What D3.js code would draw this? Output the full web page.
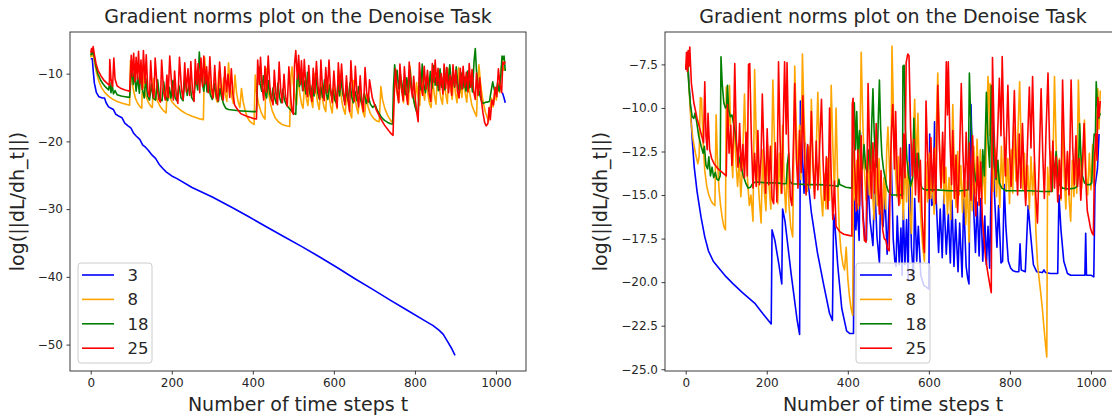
<!DOCTYPE html>
<html>
<head>
<meta charset="utf-8">
<script src="https://cdn.jsdelivr.net/npm/d3@7"></script>
<style>
  html, body { margin: 0; padding: 0; background: #fff; }
  svg { display: block; font-family: "DejaVu Sans", sans-serif; }
</style>
</head>
<body>
<svg id="chart" width="1112" height="417"></svg>
<script>
// Log gradient norm per time step for four depth settings, two runs of the Denoise task.
const seriesLabels = ["3", "8", "18", "25"];
const seriesColors = ["blue", "orange", "green", "red"];
const xTicks = [0, 200, 400, 600, 800, 1000];
const leftYTicks = [-50, -40, -30, -20, -10];
const rightYTicks = [-25, -22.5, -20, -17.5, -15, -12.5, -10, -7.5];
const chartTitle = "Gradient norms plot on the Denoise Task";
const xTitle = "Number of time steps t";
const yTitle = "log(||dL/dh_t||)";

// ---- left run: [time step, log norm]; null marks steps where the norm underflows ----
const leftBlue = [[0,-7.8],[4,-7.8],[6,-9.5],[9,-11.4],[14,-12.8],[20,-13.4],[29,-13.6],[34,-13.6],[38,-14.3],[44,-14.9],[50,-15.1],[56,-15.3],[62,-16.0],[70,-16.3],[77,-16.5],[84,-17.3],[92,-17.7],[99,-18.0],[106,-18.8],[112,-19.2],[121,-19.7],[128,-20.5],[134,-20.8],[142,-21.3],[151,-22.0],[160,-22.5],[169,-23.4],[178,-24.0],[186,-24.5],[200,-25.1],[213,-25.5],[250,-26.8],[300,-28.2],[350,-29.8],[388,-31.05],[430,-32.5],[475,-34.0],[520,-35.5],[563,-37.0],[610,-38.7],[650,-40.2],[700,-42.0],[738,-43.4],[780,-44.9],[825,-46.5],[845,-47.2],[860,-47.9],[870,-48.5],[880,-49.5],[890,-50.5],[899,-51.6],[900,null],[1015,null],[1016,-12.8],[1020,-13.6],[1023,-14.3]];

const leftOrange = [[0,-7.6],[2,-7.0],[4,-7.4],[6,-7.0],[9,-8.2],[14,-9.8],[20,-11.1],[27,-12.1],[35,-12.8],[45,-13.4],[55,-13.8],[65,-14.1],[80,-14.4],[96,-14.65],[98,-8.1],[101,-10.5],[105,-12.3],[110,-13.6],[116,-14.4],[122,-14.9],[126,-15.1],[128,-9.6],[131,-11.9],[136,-13.3],[142,-14.2],[148,-14.8],[152,-15.0],[155,-10.7],[159,-12.8],[165,-14.1],[172,-14.9],[180,-15.5],[186,-15.8],[189,-11.9],[193,-13.2],[200,-14.1],[210,-14.8],[222,-15.4],[235,-15.9],[250,-16.3],[265,-16.6],[278,-16.8],[281,-7.6],[284,-10.4],[288,-12.2],[292,-9.8],[296,-12.5],[300,-13.6],[304,-11.3],[308,-13.4],[312,-14.2],[316,-9.7],[320,-12.5],[324,-13.8],[328,-10.6],[332,-13.0],[336,-14.1],[340,-8.4],[344,-11.5],[348,-13.4],[352,-14.4],[356,-10.2],[360,-12.9],[364,-14.2],[368,-15.0],[372,-12.2],[376,-14.1],[381,-15.4],[386,-16.4],[392,-17.0],[398,-17.3],[403,-17.5],[406,-10.2],[409,-12.6],[414,-14.4],[420,-15.6],[426,-16.4],[430,-16.7],[433,-9.2],[437,-12.0],[442,-14.0],[448,-15.5],[455,-16.5],[463,-17.1],[472,-17.5],[482,-17.7],[491,-17.8],[494,-10.4],[497,-9.0],[500,-11.5],[504,-13.5],[508,-14.6],[512,-10.2],[516,-12.9],[520,-14.4],[524,-15.1],[528,-11.2],[532,-13.6],[536,-14.7],[540,-11.8],[544,-13.9],[548,-15.0],[552,-10.0],[556,-12.7],[560,-14.3],[564,-15.3],[568,-11.5],[572,-13.8],[576,-15.0],[580,-15.6],[584,-10.8],[588,-13.2],[592,-14.8],[596,-15.8],[600,-11.7],[604,-14.0],[608,-15.2],[612,-9.4],[616,-12.3],[620,-14.2],[624,-15.3],[628,-16.0],[632,-12.5],[636,-14.6],[640,-15.8],[644,-16.5],[648,-11.0],[652,-13.5],[656,-15.0],[660,-15.9],[664,-12.2],[668,-14.5],[672,-15.7],[676,-16.4],[680,-13.0],[684,-14.8],[690,-15.9],[698,-16.6],[706,-17.0],[712,-17.1],[716,-11.9],[720,-13.8],[726,-15.2],[733,-16.2],[740,-16.9],[746,-17.3],[749,-12.4],[752,-10.6],[756,-12.9],[760,-14.2],[764,-10.1],[768,-12.7],[772,-14.3],[776,-11.0],[780,-13.2],[784,-14.6],[788,-8.9],[792,-11.8],[796,-13.6],[800,-14.8],[804,-11.3],[808,-13.5],[812,-14.7],[816,-9.7],[820,-12.4],[824,-13.9],[828,-10.6],[832,-13.0],[836,-14.4],[840,-15.0],[844,-10.9],[848,-13.2],[852,-14.5],[856,-9.5],[860,-12.0],[864,-13.6],[868,-14.5],[872,-10.8],[876,-13.0],[880,-14.4],[884,-9.3],[888,-12.2],[892,-13.8],[896,-10.4],[900,-12.9],[904,-14.3],[908,-9.1],[912,-11.9],[916,-13.5],[920,-10.3],[924,-12.8],[928,-14.2],[932,-10.8],[936,-13.1],[940,-14.5],[944,-15.2],[948,-15.8],[952,-16.3],[955,-11.6],[958,-8.7],[962,-11.4],[966,-13.3],[970,-14.6],[974,-15.7],[978,-16.4],[982,-17.0],[985,-15.2],[989,-13.6],[993,-14.9],[997,-12.5],[1001,-13.9],[1005,-11.3],[1009,-12.8],[1013,-9.3],[1016,-8.0],[1019,-9.5],[1023,-9.2]];

const leftGreen = [[0,-7.3],[2,-6.9],[4,-7.1],[6,-6.6],[9,-7.6],[13,-9.0],[18,-10.1],[24,-10.9],[30,-11.5],[37,-12.0],[44,-12.4],[47,-11.3],[50,-12.8],[53,-11.6],[56,-13.0],[60,-12.5],[65,-13.1],[75,-13.3],[85,-13.4],[96,-13.5],[99,-10.8],[102,-9.1],[105,-11.6],[108,-9.8],[112,-12.6],[116,-10.4],[120,-12.9],[124,-9.5],[128,-12.4],[132,-13.6],[136,-10.7],[140,-13.3],[145,-13.9],[150,-11.5],[154,-13.6],[160,-13.9],[165,-10.9],[170,-13.6],[176,-14.0],[180,-11.2],[185,-13.4],[190,-14.0],[194,-12.0],[198,-13.6],[203,-11.0],[208,-13.5],[212,-14.0],[218,-11.8],[223,-13.6],[228,-14.0],[233,-10.4],[238,-13.2],[244,-11.2],[249,-13.5],[254,-14.0],[259,-10.6],[264,-12.4],[268,-6.8],[271,-9.6],[275,-11.2],[279,-12.6],[283,-10.0],[287,-12.7],[291,-11.3],[295,-13.1],[300,-13.8],[305,-11.5],[310,-13.4],[315,-14.1],[319,-12.2],[324,-13.7],[328,-14.5],[333,-15.1],[340,-15.3],[355,-15.4],[370,-15.5],[385,-15.55],[400,-15.6],[409,-15.6],[412,-10.8],[415,-9.0],[418,-11.4],[422,-12.6],[426,-10.3],[430,-12.8],[434,-13.6],[438,-11.0],[442,-13.0],[446,-13.9],[450,-12.1],[454,-13.6],[458,-14.4],[462,-11.4],[466,-13.5],[470,-14.3],[474,-12.3],[478,-13.9],[483,-14.6],[488,-15.0],[494,-15.4],[500,-15.8],[506,-16.0],[509,-11.0],[512,-9.6],[515,-11.9],[519,-10.3],[523,-12.5],[527,-11.1],[531,-13.0],[535,-9.8],[539,-12.3],[543,-13.4],[547,-11.7],[551,-13.3],[556,-10.5],[560,-12.8],[564,-13.7],[568,-12.0],[572,-13.5],[577,-10.9],[581,-12.9],[585,-13.8],[590,-11.6],[594,-13.3],[598,-12.4],[602,-13.9],[606,-14.3],[610,-11.5],[614,-13.3],[618,-10.8],[622,-13.0],[627,-14.2],[631,-12.4],[635,-14.0],[640,-11.3],[644,-13.4],[648,-14.3],[652,-12.6],[657,-14.0],[661,-11.9],[665,-13.7],[670,-14.6],[675,-12.9],[680,-14.4],[685,-13.3],[690,-14.5],[696,-15.0],[702,-14.6],[707,-15.4],[712,-15.9],[718,-16.5],[725,-16.9],[733,-17.2],[740,-17.4],[745,-17.45],[747,-12.2],[750,-8.7],[753,-10.6],[756,-9.5],[760,-12.2],[764,-10.1],[768,-12.7],[772,-11.0],[776,-13.1],[780,-10.6],[784,-12.8],[788,-9.4],[792,-12.3],[797,-13.9],[801,-15.0],[805,-15.8],[808,-16.1],[811,-10.6],[815,-12.4],[818,-8.6],[822,-11.6],[826,-12.8],[830,-10.4],[834,-12.6],[838,-9.7],[842,-12.2],[846,-8.8],[850,-11.7],[854,-10.1],[858,-12.5],[862,-9.3],[866,-12.0],[870,-10.6],[874,-12.4],[878,-9.1],[882,-11.5],[886,-8.7],[890,-11.4],[894,-10.2],[898,-12.0],[902,-9.0],[906,-11.6],[910,-12.8],[914,-9.9],[918,-12.2],[922,-10.5],[926,-12.6],[930,-9.6],[934,-12.1],[938,-10.4],[942,-12.7],[946,-8.1],[949,-6.3],[952,-9.6],[956,-11.9],[960,-13.1],[964,-14.0],[968,-14.4],[972,-14.3],[976,-14.2],[980,-14.2],[984,-14.1],[988,-12.6],[992,-11.2],[996,-12.4],[1000,-13.0],[1004,-11.4],[1008,-12.6],[1012,-10.3],[1015,-7.4],[1018,-7.9],[1020,-7.4],[1023,-9.6]];

const leftRed = [[0,-6.9],[2,-6.3],[4,-6.8],[6,-6.0],[9,-7.2],[13,-8.5],[18,-9.5],[25,-10.3],[33,-11.0],[42,-11.5],[46,-11.7],[47,-7.9],[50,-10.9],[54,-11.9],[57,-7.7],[60,-10.8],[65,-11.8],[75,-12.2],[85,-12.4],[96,-12.6],[100,-7.3],[103,-10.4],[106,-7.0],[109,-11.2],[112,-7.6],[115,-10.8],[118,-6.7],[121,-11.5],[124,-8.0],[127,-12.3],[130,-6.6],[134,-11.4],[137,-7.2],[141,-12.6],[145,-13.4],[148,-8.1],[152,-12.3],[156,-13.6],[159,-7.7],[164,-12.1],[168,-13.8],[172,-14.2],[175,-8.0],[180,-12.7],[184,-13.9],[188,-10.2],[191,-13.5],[195,-7.4],[200,-12.0],[204,-13.9],[207,-9.6],[211,-13.1],[215,-14.4],[219,-7.6],[224,-12.3],[228,-13.8],[232,-8.4],[236,-12.7],[240,-9.3],[244,-13.2],[247,-8.2],[251,-12.4],[255,-14.1],[258,-7.9],[262,-11.6],[265,-8.5],[269,-12.8],[272,-7.7],[276,-11.9],[279,-7.4],[283,-11.5],[286,-9.0],[290,-12.8],[294,-7.5],[298,-12.1],[302,-13.6],[306,-8.8],[310,-12.9],[314,-14.0],[318,-8.3],[323,-12.6],[327,-13.9],[331,-9.0],[335,-12.7],[339,-10.1],[343,-13.5],[347,-9.3],[351,-13.1],[355,-14.6],[359,-15.0],[370,-15.9],[385,-16.3],[400,-16.6],[409,-16.7],[412,-8.0],[416,-11.6],[419,-7.6],[423,-12.0],[427,-13.9],[430,-8.9],[434,-12.7],[438,-7.4],[442,-11.8],[446,-13.8],[450,-14.6],[453,-9.5],[457,-13.0],[461,-14.6],[465,-8.3],[469,-12.6],[473,-14.3],[477,-10.1],[481,-13.5],[485,-14.8],[489,-9.0],[493,-13.2],[497,-15.6],[500,-16.0],[503,-8.6],[506,-6.6],[510,-10.8],[513,-7.3],[517,-11.6],[520,-8.1],[524,-12.5],[527,-7.9],[531,-11.9],[535,-13.4],[538,-8.8],[542,-12.5],[546,-14.1],[549,-9.2],[553,-12.9],[557,-8.2],[561,-12.0],[565,-13.8],[568,-8.0],[572,-12.3],[576,-14.0],[580,-9.1],[584,-12.8],[588,-8.0],[592,-12.4],[596,-14.3],[600,-9.6],[604,-13.0],[608,-15.0],[611,-8.4],[615,-12.4],[619,-8.6],[623,-12.5],[627,-14.6],[631,-10.3],[635,-13.8],[639,-15.6],[642,-8.1],[646,-12.2],[650,-14.1],[653,-8.9],[657,-12.9],[661,-14.9],[665,-10.3],[669,-14.1],[673,-15.6],[677,-9.1],[681,-12.8],[685,-14.2],[688,-10.9],[695,-13.6],[705,-15.4],[715,-16.6],[725,-17.6],[735,-18.4],[742,-18.9],[746,-19.1],[749,-13.0],[752,-9.3],[756,-12.5],[760,-14.3],[763,-8.6],[767,-12.1],[771,-14.0],[774,-9.0],[778,-12.6],[782,-14.5],[786,-8.3],[790,-11.9],[794,-13.5],[797,-10.4],[801,-13.8],[805,-15.9],[808,-17.1],[811,-8.4],[815,-11.6],[819,-13.2],[823,-8.9],[827,-12.3],[831,-9.5],[835,-12.9],[839,-14.1],[843,-8.5],[847,-11.3],[850,-8.0],[854,-11.7],[857,-9.2],[861,-12.4],[865,-10.0],[869,-13.0],[872,-8.6],[876,-12.2],[879,-9.1],[883,-12.8],[887,-10.2],[891,-13.2],[894,-8.7],[898,-11.9],[901,-9.5],[905,-12.6],[909,-13.6],[912,-9.2],[916,-12.3],[919,-8.9],[923,-12.0],[927,-9.8],[931,-12.7],[934,-8.5],[938,-12.0],[941,-9.4],[945,-12.6],[949,-13.8],[952,-9.9],[956,-13.2],[960,-10.6],[964,-13.9],[968,-15.8],[972,-17.2],[976,-17.7],[980,-17.4],[983,-15.0],[986,-16.8],[990,-13.9],[994,-14.6],[998,-12.0],[1002,-13.4],[1006,-9.3],[1010,-11.7],[1014,-12.8],[1017,-8.3],[1020,-8.6],[1023,-8.2]];

// ---- right run ----
const rightBlue = [[0,-7.8],[3,-7.6],[5,-7.4],[8,-8.5],[12,-10.1],[16,-11.8],[21,-13.4],[28,-14.8],[38,-16.3],[47,-17.4],[56,-18.2],[68,-18.8],[82,-19.2],[100,-19.7],[117,-20.1],[140,-20.6],[170,-21.2],[190,-21.8],[211,-22.4],[213,-17.0],[220,-17.6],[230,-19.0],[237,-20.1],[239,-15.8],[245,-16.5],[260,-19.5],[275,-22.2],[281,-23.0],[283,-9.6],[287,-12.3],[292,-14.9],[295,-12.0],[300,-13.8],[310,-16.0],[325,-18.3],[340,-20.1],[355,-21.8],[362,-22.2],[365,-16.1],[368,-16.7],[375,-19.0],[385,-21.5],[397,-22.8],[405,-22.95],[414,-22.95],[416,-15.2],[420,-17.0],[423,-15.5],[428,-17.6],[431,-11.4],[436,-15.6],[442,-17.5],[446,-17.6],[449,-13.8],[455,-16.5],[462,-17.9],[466,-14.2],[472,-17.4],[478,-18.9],[481,-14.6],[487,-16.8],[492,-15.0],[497,-18.4],[502,-15.5],[507,-12.8],[512,-17.5],[516,-18.8],[519,-19.1],[522,-16.2],[527,-19.0],[531,-16.9],[534,-19.6],[537,-15.8],[541,-19.0],[545,-16.4],[549,-19.9],[552,-12.1],[557,-18.0],[562,-19.7],[565,-15.2],[570,-18.8],[574,-16.8],[580,-19.6],[588,-20.2],[595,-20.3],[600,-20.4],[602,-11.5],[607,-15.6],[611,-15.4],[614,-10.8],[618,-15.2],[624,-18.3],[628,-15.8],[633,-18.6],[637,-15.0],[643,-18.4],[648,-16.1],[653,-18.9],[657,-15.3],[662,-19.1],[666,-16.4],[672,-19.4],[676,-16.6],[682,-19.7],[686,-15.2],[692,-19.1],[696,-19.8],[699,-20.1],[701,-14.6],[704,-9.8],[709,-14.9],[715,-18.3],[719,-15.4],[724,-18.5],[728,-15.2],[733,-18.8],[738,-16.2],[742,-19.0],[746,-16.8],[750,-19.2],[753,-15.3],[758,-9.9],[762,-15.0],[768,-18.0],[772,-15.6],[778,-18.9],[782,-18.8],[786,-14.4],[790,-16.8],[796,-18.8],[802,-19.2],[808,-19.35],[815,-19.4],[822,-19.4],[825,-17.8],[828,-19.3],[838,-19.4],[845,-15.6],[850,-17.0],[858,-19.0],[866,-19.4],[880,-19.45],[884,-19.3],[888,-19.45],[900,-19.5],[918,-19.5],[921,-15.0],[926,-17.0],[933,-18.8],[942,-19.5],[950,-19.6],[970,-19.6],[985,-19.6],[987,-17.2],[989,-19.6],[1000,-19.6],[1007,-19.7],[1010,-14.5],[1016,-13.5],[1020,-11.5]];

const rightOrange = [[0,-7.6],[3,-7.3],[6,-7.8],[9,-9.2],[13,-10.8],[18,-11.8],[24,-12.6],[30,-13.2],[33,-12.8],[36,-9.4],[39,-9.45],[43,-12.0],[47,-13.6],[52,-14.5],[57,-15.0],[62,-15.3],[67,-15.5],[72,-15.6],[75,-10.4],[78,-12.8],[82,-14.6],[86,-15.6],[90,-16.3],[94,-16.8],[98,-17.0],[100,-8.8],[103,-9.8],[106,-11.0],[108,-8.7],[112,-12.3],[116,-14.0],[120,-10.2],[124,-13.1],[128,-14.5],[132,-13.0],[136,-15.1],[140,-13.4],[145,-9.2],[149,-12.5],[153,-14.3],[157,-15.6],[161,-15.0],[166,-16.5],[170,-7.8],[174,-11.6],[178,-13.9],[182,-15.4],[186,-16.6],[190,-12.4],[194,-14.8],[198,-15.9],[202,-12.1],[206,-14.6],[210,-15.8],[215,-8.4],[219,-11.9],[223,-14.2],[227,-15.5],[231,-12.6],[235,-14.9],[239,-11.0],[243,-14.3],[247,-16.0],[251,-13.2],[255,-15.6],[259,-16.8],[264,-17.4],[267,-12.0],[269,-7.6],[273,-11.3],[277,-13.8],[281,-11.0],[284,-14.1],[288,-6.9],[292,-10.5],[296,-13.0],[300,-14.8],[304,-12.2],[307,-14.6],[310,-9.5],[314,-12.9],[318,-15.0],[322,-12.5],[326,-9.1],[330,-12.7],[334,-15.0],[338,-16.2],[342,-13.8],[346,-15.8],[350,-12.9],[355,-15.3],[359,-8.7],[363,-12.2],[367,-14.8],[371,-10.0],[375,-14.2],[379,-17.0],[383,-18.2],[388,-19.0],[392,-19.3],[396,-18.0],[400,-19.8],[404,-20.8],[408,-21.5],[412,-21.9],[414,-12.5],[418,-15.3],[422,-13.0],[426,-15.8],[430,-12.0],[433,-6.8],[437,-10.8],[441,-13.6],[445,-15.3],[449,-12.6],[453,-15.0],[457,-12.2],[461,-14.9],[465,-16.4],[469,-13.4],[473,-15.6],[477,-12.9],[481,-15.4],[485,-16.7],[489,-14.0],[493,-15.8],[496,-12.4],[499,-11.1],[503,-13.6],[506,-15.0],[509,-6.45],[513,-10.6],[517,-13.3],[521,-15.1],[525,-12.8],[529,-15.5],[533,-13.9],[537,-16.4],[541,-12.7],[545,-15.4],[549,-13.1],[553,-15.9],[557,-17.2],[561,-12.4],[565,-9.5],[569,-13.4],[573,-10.3],[577,-14.5],[581,-16.7],[585,-18.0],[589,-18.8],[593,-13.1],[597,-15.4],[601,-12.6],[605,-15.2],[609,-13.8],[613,-16.1],[617,-12.3],[622,-8.0],[626,-12.0],[630,-14.6],[634,-12.9],[638,-15.5],[642,-13.4],[646,-16.1],[650,-14.0],[654,-16.4],[659,-9.8],[663,-13.4],[667,-15.7],[671,-12.5],[675,-15.0],[679,-13.3],[683,-16.0],[687,-13.5],[691,-16.7],[695,-14.2],[699,-17.7],[703,-13.6],[707,-15.9],[711,-12.2],[715,-14.9],[719,-11.8],[723,-14.6],[727,-12.4],[731,-15.2],[735,-13.0],[739,-15.5],[742,-11.4],[746,-8.2],[750,-11.6],[751,-8.6],[755,-12.4],[759,-14.8],[763,-12.3],[767,-15.1],[771,-13.0],[775,-15.7],[779,-12.2],[783,-14.6],[787,-11.7],[791,-14.8],[795,-12.9],[799,-15.5],[803,-12.4],[807,-14.9],[811,-11.1],[815,-14.2],[819,-12.0],[824,-8.5],[828,-12.3],[832,-14.7],[836,-12.6],[840,-15.2],[844,-13.3],[848,-15.8],[852,-12.8],[856,-15.0],[860,-13.1],[864,-17.0],[868,-18.9],[872,-19.8],[876,-20.6],[880,-21.5],[884,-22.6],[888,-23.6],[891,-24.3],[893,-13.4],[897,-15.0],[901,-12.5],[905,-14.8],[910,-8.2],[914,-12.1],[918,-14.5],[922,-12.9],[926,-15.3],[930,-10.7],[934,-13.9],[938,-15.8],[942,-12.6],[946,-15.2],[950,-16.5],[954,-13.0],[958,-15.1],[962,-12.3],[965,-14.9],[969,-8.4],[973,-12.0],[977,-14.6],[981,-12.8],[984,-10.7],[988,-13.8],[992,-15.0],[996,-12.6],[1000,-14.7],[1004,-12.1],[1008,-14.5],[1012,-12.5],[1017,-8.9],[1020,-11.2],[1023,-9.0]];

const rightGreen = [[0,-7.7],[3,-7.4],[5,-7.7],[8,-8.8],[12,-9.9],[16,-10.5],[20,-10.6],[23,-10.3],[27,-10.8],[32,-11.6],[38,-12.2],[43,-12.6],[46,-12.2],[50,-13.3],[54,-13.5],[57,-12.8],[61,-13.9],[65,-13.4],[69,-14.0],[73,-13.7],[77,-14.1],[81,-14.15],[85,-13.9],[87,-7.06],[90,-8.6],[94,-9.7],[98,-10.0],[101,-9.9],[103,-8.7],[106,-10.1],[110,-10.5],[114,-10.4],[118,-10.9],[122,-11.4],[126,-12.3],[131,-12.8],[136,-13.3],[142,-13.9],[148,-14.3],[154,-14.6],[160,-14.55],[166,-14.3],[175,-14.25],[200,-14.3],[225,-14.3],[240,-14.35],[248,-14.35],[251,-13.2],[254,-12.6],[257,-14.2],[262,-14.35],[300,-14.4],[330,-14.4],[360,-14.45],[376,-14.5],[378,-14.1],[380,-14.4],[395,-14.55],[410,-14.6],[413,-11.4],[416,-9.7],[419,-12.4],[422,-10.2],[425,-12.6],[429,-11.3],[432,-13.2],[436,-13.5],[440,-12.1],[444,-13.4],[448,-13.7],[452,-12.4],[456,-13.5],[459,-10.9],[462,-8.9],[465,-11.4],[468,-12.8],[472,-13.4],[475,-10.8],[478,-8.4],[481,-11.2],[484,-12.7],[488,-13.5],[492,-14.0],[496,-14.5],[500,-14.8],[508,-15.0],[520,-15.0],[535,-15.0],[536,-7.6],[539,-7.55],[542,-11.2],[546,-13.0],[550,-13.9],[555,-14.5],[560,-14.0],[563,-10.6],[566,-12.8],[570,-13.9],[574,-12.6],[578,-14.2],[583,-14.6],[590,-14.7],[620,-14.7],[650,-14.75],[680,-14.75],[697,-14.7],[700,-8.0],[703,-10.4],[707,-12.2],[711,-13.4],[715,-14.1],[719,-14.4],[725,-14.5],[730,-14.5],[733,-12.4],[737,-13.9],[742,-9.1],[746,-11.9],[750,-13.4],[754,-8.7],[758,-11.8],[762,-13.4],[766,-14.1],[770,-13.0],[774,-14.3],[780,-14.6],[790,-14.75],[820,-14.75],[850,-14.75],[880,-14.8],[904,-14.8],[906,-12.7],[910,-13.9],[914,-12.5],[918,-13.9],[922,-14.4],[930,-14.6],[945,-14.65],[960,-14.6],[966,-14.5],[970,-12.8],[972,-10.9],[975,-12.6],[979,-13.9],[984,-14.3],[990,-14.4],[998,-14.4],[1002,-14.3],[1005,-12.5],[1008,-11.5],[1011,-11.6],[1013,-8.5],[1016,-9.8],[1019,-10.6],[1023,-10.3]];

const rightRed = [[0,-7.8],[2,-6.8],[4,-7.9],[6,-6.7],[8,-7.6],[10,-6.5],[14,-8.6],[20,-9.7],[28,-10.6],[36,-11.3],[44,-12.0],[47,-8.5],[50,-11.6],[53,-12.4],[55,-10.3],[59,-12.4],[64,-12.9],[70,-13.2],[80,-13.5],[90,-13.7],[100,-13.9],[103,-9.8],[107,-12.6],[111,-11.0],[114,-13.3],[118,-11.5],[121,-7.45],[125,-11.8],[129,-13.4],[133,-10.9],[137,-13.6],[141,-12.1],[145,-14.0],[149,-11.4],[152,-13.9],[155,-7.5],[158,-7.45],[162,-11.8],[166,-14.6],[170,-12.6],[174,-14.5],[178,-11.3],[182,-14.4],[186,-12.8],[189,-9.2],[193,-12.5],[197,-14.9],[201,-11.2],[205,-14.4],[209,-12.2],[213,-15.2],[217,-15.5],[221,-12.0],[225,-15.4],[229,-7.35],[233,-11.9],[237,-14.9],[241,-10.6],[244,-7.35],[248,-11.5],[250,-7.4],[254,-12.3],[258,-15.1],[262,-15.6],[266,-11.8],[269,-8.6],[273,-12.9],[277,-14.6],[281,-11.3],[285,-13.7],[289,-9.3],[293,-12.9],[297,-15.0],[301,-12.1],[305,-14.4],[310,-10.2],[314,-13.3],[318,-15.2],[322,-11.9],[326,-14.7],[330,-12.5],[335,-9.5],[339,-13.1],[343,-15.3],[347,-12.8],[351,-15.8],[355,-10.0],[359,-13.9],[363,-16.4],[367,-14.2],[371,-16.8],[380,-17.1],[390,-17.25],[400,-17.3],[410,-17.35],[411,-9.8],[413,-9.45],[417,-13.3],[421,-15.9],[425,-12.4],[429,-15.6],[433,-11.6],[437,-16.2],[441,-17.6],[445,-17.7],[448,-12.5],[450,-8.6],[454,-12.7],[458,-15.2],[462,-12.0],[466,-14.9],[470,-10.9],[474,-14.3],[478,-16.1],[482,-13.6],[486,-17.0],[490,-17.5],[494,-17.6],[498,-18.1],[502,-18.2],[505,-13.4],[508,-11.2],[511,-9.8],[515,-13.5],[518,-10.2],[522,-14.1],[526,-15.6],[530,-12.3],[534,-15.2],[538,-11.5],[541,-14.0],[544,-7.4],[548,-6.9],[551,-7.0],[555,-11.2],[559,-13.9],[563,-11.8],[567,-15.0],[571,-12.6],[575,-15.4],[579,-13.0],[583,-16.1],[587,-17.8],[589,-18.3],[593,-9.6],[597,-12.9],[601,-15.2],[605,-11.7],[609,-14.8],[613,-12.3],[617,-15.5],[622,-8.7],[626,-12.1],[630,-14.6],[634,-11.4],[638,-14.3],[643,-7.35],[646,-10.4],[648,-7.35],[652,-11.8],[656,-14.4],[659,-11.3],[663,-15.2],[667,-12.7],[671,-16.0],[675,-13.5],[680,-8.6],[684,-12.5],[688,-15.1],[692,-11.4],[696,-14.7],[700,-12.0],[704,-15.3],[708,-11.6],[712,-14.8],[716,-16.2],[720,-12.8],[724,-15.6],[728,-13.1],[732,-16.4],[736,-17.5],[740,-18.6],[745,-19.4],[750,-20.1],[754,-20.6],[757,-7.1],[761,-11.3],[765,-14.0],[769,-12.0],[774,-8.3],[778,-11.6],[781,-7.05],[785,-11.2],[789,-13.9],[795,-8.7],[799,-12.4],[803,-14.5],[807,-12.2],[811,-9.0],[815,-12.8],[819,-15.0],[823,-11.5],[827,-14.6],[831,-10.9],[835,-13.9],[839,-15.6],[843,-12.4],[848,-8.8],[852,-12.3],[856,-8.2],[860,-12.5],[864,-15.1],[868,-16.6],[872,-13.3],[877,-8.9],[881,-12.6],[885,-15.2],[889,-11.5],[894,-8.0],[898,-12.2],[902,-14.8],[906,-11.9],[910,-14.6],[914,-12.8],[918,-15.4],[922,-13.0],[926,-15.2],[930,-8.4],[934,-12.1],[938,-14.7],[942,-12.5],[946,-15.0],[951,-8.4],[955,-12.3],[959,-14.4],[963,-11.6],[967,-14.5],[971,-12.9],[975,-15.3],[979,-13.2],[983,-10.9],[987,-14.0],[991,-15.9],[995,-16.4],[999,-16.9],[1003,-17.2],[1006,-17.3],[1009,-12.8],[1012,-11.5],[1015,-13.0],[1017,-9.4],[1020,-10.5],[1023,-9.6]];

// ---- layout ----
const panels = [
  { left: 70, right: 526, top: 32, bottom: 371, xDomain: [-51.15, 1074.15], yDomain: [-53.9, -3.85],
    yTicks: leftYTicks, yFormat: d3.format("d"), series: [leftBlue, leftOrange, leftGreen, leftRed],
    ylabelX: 24, legendX: 78 },
  { left: 665, right: 1121, top: 32, bottom: 371, xDomain: [-51.15, 1074.15], yDomain: [-25.1, -5.64],
    yTicks: rightYTicks, yFormat: d3.format(".1f"), series: [rightBlue, rightOrange, rightGreen, rightRed],
    ylabelX: 607, legendX: 856 }
];

const svg = d3.select("#chart");
const ink = "#262626";

panels.forEach((p, pi) => {
  const x = d3.scaleLinear().domain(p.xDomain).range([p.left, p.right]);
  const y = d3.scaleLinear().domain(p.yDomain).range([p.bottom, p.top]);
  const g = svg.append("g");

  const clipId = "clip" + pi;
  svg.append("defs").append("clipPath").attr("id", clipId)
    .append("rect").attr("x", p.left).attr("y", p.top)
    .attr("width", p.right - p.left).attr("height", p.bottom - p.top);

  // series lines
  const line = d3.line()
    .defined(d => d[1] !== null)
    .x(d => x(d[0])).y(d => y(d[1]));
  const lines = g.append("g").attr("clip-path", `url(#${clipId})`);
  p.series.forEach((data, i) => {
    lines.append("path").datum(data)
      .attr("fill", "none")
      .attr("stroke", seriesColors[i])
      .attr("stroke-width", 1.6)
      .attr("stroke-linejoin", "round")
      .attr("d", line);
  });

  // axes
  const xAxis = d3.axisBottom(x).tickValues(xTicks).tickSize(3.5).tickPadding(3.5).tickFormat(d3.format("d"));
  const yAxis = d3.axisLeft(y).tickValues(p.yTicks).tickSize(3.5).tickPadding(3.5).tickFormat(p.yFormat);
  const gx = g.append("g").attr("transform", `translate(0,${p.bottom})`).call(xAxis);
  const gy = g.append("g").attr("transform", `translate(${p.left},0)`).call(yAxis);
  [gx, gy].forEach(a => {
    a.select(".domain").remove();
    a.selectAll("line").attr("stroke", ink).attr("stroke-width", 0.9);
    a.selectAll("text").attr("fill", ink).style("font-size", "12px")
      .style("font-family", "'DejaVu Sans', sans-serif");
  });

  // frame
  g.append("rect")
    .attr("x", p.left).attr("y", p.top)
    .attr("width", p.right - p.left).attr("height", p.bottom - p.top)
    .attr("fill", "none").attr("stroke", ink).attr("stroke-width", 0.9);

  // titles
  const cx = (p.left + p.right) / 2;
  g.append("text").attr("x", cx).attr("y", 23).attr("text-anchor", "middle")
    .attr("fill", ink).style("font-size", "19px").text(chartTitle);
  g.append("text").attr("x", cx).attr("y", 411).attr("text-anchor", "middle")
    .attr("fill", ink).style("font-size", "19px").text(xTitle);
  g.append("text")
    .attr("transform", `translate(${p.ylabelX},${(p.top + p.bottom) / 2}) rotate(-90)`)
    .attr("text-anchor", "middle").attr("fill", ink).style("font-size", "19px").text(yTitle);

  // legend
  const lg = g.append("g").attr("transform", `translate(${p.legendX},263)`);
  lg.append("rect").attr("width", 74).attr("height", 100).attr("rx", 3)
    .attr("fill", "#fff").attr("fill-opacity", 0.8)
    .attr("stroke", "#cccccc").attr("stroke-width", 1);
  seriesLabels.forEach((lab, i) => {
    const ry = 12 + i * 24.4;
    lg.append("line").attr("x1", 4).attr("x2", 36).attr("y1", ry).attr("y2", ry)
      .attr("stroke", seriesColors[i]).attr("stroke-width", 1.6);
    lg.append("text").attr("x", 49.5).attr("y", ry + 6).attr("fill", ink)
      .style("font-size", "16.5px").text(lab);
  });
});
</script>
</body>
</html>
